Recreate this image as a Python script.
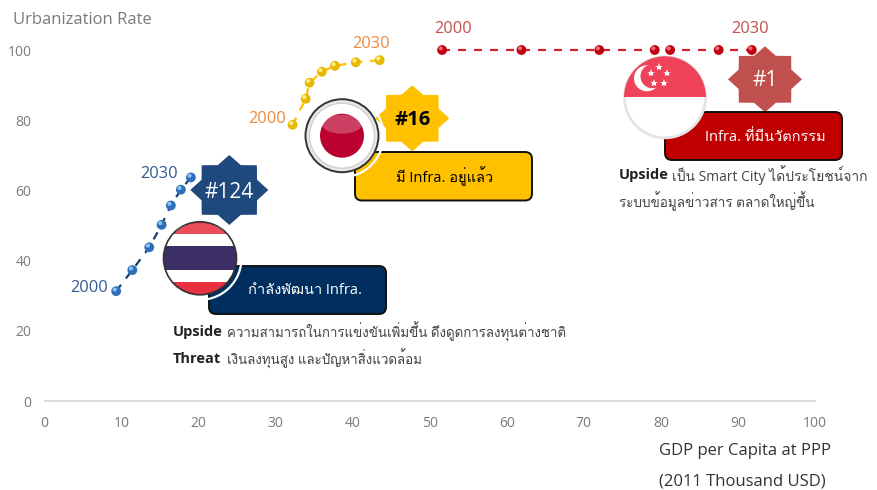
import numpy as np, pandas as pd, seaborn as sns
import matplotlib
matplotlib.use("Agg")
import matplotlib.pyplot as plt
from matplotlib import font_manager as fm, transforms as mt
from matplotlib.patches import Circle, Rectangle, FancyBboxPatch, Polygon, Ellipse
from matplotlib.ft2font import FT2Font

thai_x = [9.3, 11.4, 13.6, 15.2, 16.4, 17.7, 19.0]
thai_y = [31.3, 37.3, 43.8, 50.2, 55.7, 60.2, 63.7]
japan_x = [32.2, 33.9, 34.4, 36.0, 37.7, 40.4, 43.5]
japan_y = [78.7, 86.1, 90.7, 93.8, 95.5, 96.5, 97.1]
sing_x = [51.6, 61.9, 72.0, 79.2, 81.2, 87.5, 91.8]
sing_y = [100, 100, 100, 100, 100, 100, 100]
tick_vals_x = list(range(0, 101, 10))
tick_vals_y = list(range(0, 101, 20))

sns.set_theme(style="white")
thai_fonts = []
for f in fm.fontManager.ttflist:
    try:
        if 0x0E01 in FT2Font(f.fname).get_charmap() and f.name not in thai_fonts:
            thai_fonts.append(f.name)
    except Exception:
        pass
FAM = ["Open Sans"] + thai_fonts[:1] + ["DejaVu Sans"]
plt.rcParams["font.family"] = FAM

fig = plt.figure(figsize=(8.77, 4.9), dpi=100)
W, H = 877, 490
ov = fig.add_axes([0, 0, 1, 1], zorder=0)
ov.set_xlim(0, W); ov.set_ylim(H, 0); ov.axis("off")
ax = fig.add_axes([44.5/W, 1-401/H, (815-44.5)/W, (401-50)/H], zorder=1)
ax.patch.set_alpha(0)

df = pd.concat([
    pd.DataFrame({"gdp": thai_x, "urb": thai_y, "c": "Thailand"}),
    pd.DataFrame({"gdp": japan_x, "urb": japan_y, "c": "Japan"}),
    pd.DataFrame({"gdp": sing_x, "urb": sing_y, "c": "Singapore"}),
])
line_pal = {"Thailand": "#10416e", "Japan": "#ffc000", "Singapore": "#d0202e"}
dot_pal = {"Thailand": "#2e6fb7", "Japan": "#e6b800", "Singapore": "#c00010"}
hi_pal = {"Thailand": "#8fc0ee", "Japan": "#ffec80", "Singapore": "#f06a70"}
sns.lineplot(data=df, x="gdp", y="urb", hue="c", palette=line_pal, ax=ax, legend=False,
             linewidth=1.6, estimator=None, sort=False, clip_on=False,
             dashes=False, linestyle=(0, (3.6, 3.6)))
sns.scatterplot(data=df, x="gdp", y="urb", hue="c", palette=dot_pal, ax=ax, legend=False,
                s=50, linewidth=0, clip_on=False, zorder=4)
hi = sns.scatterplot(data=df, x="gdp", y="urb", hue="c", palette=hi_pal, ax=ax, legend=False,
                s=9, linewidth=0, clip_on=False, zorder=5)
hi.collections[-1].set_offset_transform(ax.transData + mt.ScaledTranslation(-1/72, 1.2/72, fig.dpi_scale_trans))

ax.set_xlim(0, 100); ax.set_ylim(0, 100)
ax.set_xticks(tick_vals_x); ax.set_yticks(tick_vals_y)
ax.set_xlabel(""); ax.set_ylabel("")
ax.tick_params(length=0, labelsize=10, labelcolor="#7a7a7a")
ax.tick_params(axis="x", pad=11)
ax.tick_params(axis="y", pad=9.5)
for s in ["top", "right", "left"]:
    ax.spines[s].set_visible(False)
ax.spines["bottom"].set_color("#d9d9d9")

def star(cx, cy, rx, ry, color):
    t = np.arange(16) * np.pi / 8
    r = np.where(np.arange(16) % 2 == 0, 1.0, 0.77)
    ov.add_patch(Polygon(np.c_[cx + rx*r*np.cos(t), cy + ry*r*np.sin(t)], fc=color, ec="none", zorder=2))

def box(x0, y0, x1, y1, color):
    ov.add_patch(FancyBboxPatch((x0+7, y0+7), x1-x0-14, y1-y0-14, boxstyle="round,pad=7,rounding_size=7",
                                fc=color, ec="#111111", lw=1.4, zorder=3))

def T(x, y, s, **k):
    k.setdefault("va", "center"); k.setdefault("family", FAM)
    ov.text(x, y, s, zorder=10, **k)

T(70, 288, "2000", color="#2f5c8f", fontsize=11.8)
T(140, 174, "2030", color="#2f5c8f", fontsize=11.8)
T(248, 119, "2000", color="#ed8a3c", fontsize=11.8)
T(352, 44, "2030", color="#ed8a3c", fontsize=11.8)
T(434, 29, "2000", color="#c0504d", fontsize=11.8)
T(731, 29, "2030", color="#c0504d", fontsize=11.8)

T(13, 20, "Urbanization Rate", color="#7a7a7a", fontsize=12)
T(659, 451, "GDP per Capita at PPP", color="#333333", fontsize=12)
T(659, 481, "(2011 Thousand USD)", color="#333333", fontsize=12)

star(229.3, 190, 39, 35, "#1f497d")
star(412.3, 118.3, 37, 33, "#ffc000")
star(765, 79.3, 37, 33, "#c0504d")
T(229.3, 192, "#124", color="white", fontsize=15, ha="center")
T(412.3, 120, "#16", color="black", fontsize=14.5, ha="center", weight="bold")
T(765, 81, "#1", color="white", fontsize=15, ha="center")

box(209, 266, 386, 314, "#002f5f")
box(355, 152, 532, 200.5, "#ffc000")
box(665, 112, 842, 160, "#c00000")
T(305, 290, "กำลังพัฒนา Infra.", color="white", fontsize=10.5, ha="center")
T(445, 176, "มี Infra. อยู่แล้ว", color="black", fontsize=10.5, ha="center")
T(765, 137, "Infra. ที่มีนวัตกรรม", color="white", fontsize=10.5, ha="center")

# Thai flag
cx, cy, r = 200, 258.3, 36.5
ov.add_patch(Circle((cx, cy), r+5, fc="none", ec="white", lw=1.6, zorder=4))
clip = Circle((cx, cy), r, transform=ov.transData)
for y0, h, c in [(-r, 2*r, "#e8303f"), (-r*0.66, r*1.32, "white"), (-r*0.33, r*0.66, "#3b2f66")]:
    p = Rectangle((cx-r, cy+y0), 2*r, h, fc=c, ec="none", zorder=5)
    ov.add_patch(p); p.set_clip_path(clip)
ov.add_patch(Circle((cx, cy), r, fc="none", ec="#333333", lw=1.2, zorder=6))
ov.add_patch(Ellipse((cx, cy-r*0.68), r*1.35, r*0.55, fc="white", alpha=0.15, ec="none", zorder=6))

# Japan flag
cx, cy, r = 342, 135.7, 36.5
ov.add_patch(Circle((cx, cy), r+5, fc="none", ec="white", lw=1.6, zorder=4))
ov.add_patch(Circle((cx, cy), r, fc="#e8e8e8", ec="#333333", lw=1.4, zorder=5))
ov.add_patch(Circle((cx, cy), r-4, fc="white", ec="#d0d0d0", lw=1.0, zorder=5))
ov.add_patch(Circle((cx, cy), 22, fc="#b9002e", ec="none", zorder=6))
ov.add_patch(Ellipse((cx, cy-11.5), 40, 19, fc="white", alpha=0.25, ec="none", zorder=7))

# Singapore flag
cx, cy, r = 665, 97.3, 40
ov.add_patch(Circle((cx, cy), r+0.5, fc="white", ec="#e4e4e4", lw=2, zorder=5))
clip = Circle((cx, cy), r+1, transform=ov.transData)
p = Rectangle((cx-r-1, cy-r-1), 2*r+2, r+1, fc="#ee4358", ec="none", zorder=6)
ov.add_patch(p); p.set_clip_path(clip)
ov.add_patch(Circle((cx-18, cy-19), 13, fc="white", ec="none", zorder=7))
ov.add_patch(Circle((cx-12.5, cy-21), 12, fc="#ee4358", ec="none", zorder=7))
for a in range(5):
    t = np.deg2rad(-90 + 72*a)
    ov.plot(659+8.7*np.cos(t), 76+8.7*np.sin(t), marker="*", ms=6, color="white", mew=0, zorder=8)

dark = "#222222"; mid = "#444444"
T(173, 332, "Upside", color=dark, fontsize=10.5, weight="bold")
T(227, 332, "ความสามารถในการแข่งขันเพิ่มขึ้น ดึงดูดการลงทุนต่างชาติ", color=mid, fontsize=9.6)
T(173, 359, "Threat", color=dark, fontsize=10.5, weight="bold")
T(227, 359, "เงินลงทุนสูง และปัญหาสิ่งแวดล้อม", color=mid, fontsize=9.6)
T(619, 175, "Upside", color=dark, fontsize=10.5, weight="bold")
T(672, 175, "เป็น Smart City ได้ประโยชน์จาก", color=mid, fontsize=10)
T(619, 201, "ระบบข้อมูลข่าวสาร ตลาดใหญ่ขึ้น", color=mid, fontsize=9.7)

fig.savefig("out.png", dpi=100)
